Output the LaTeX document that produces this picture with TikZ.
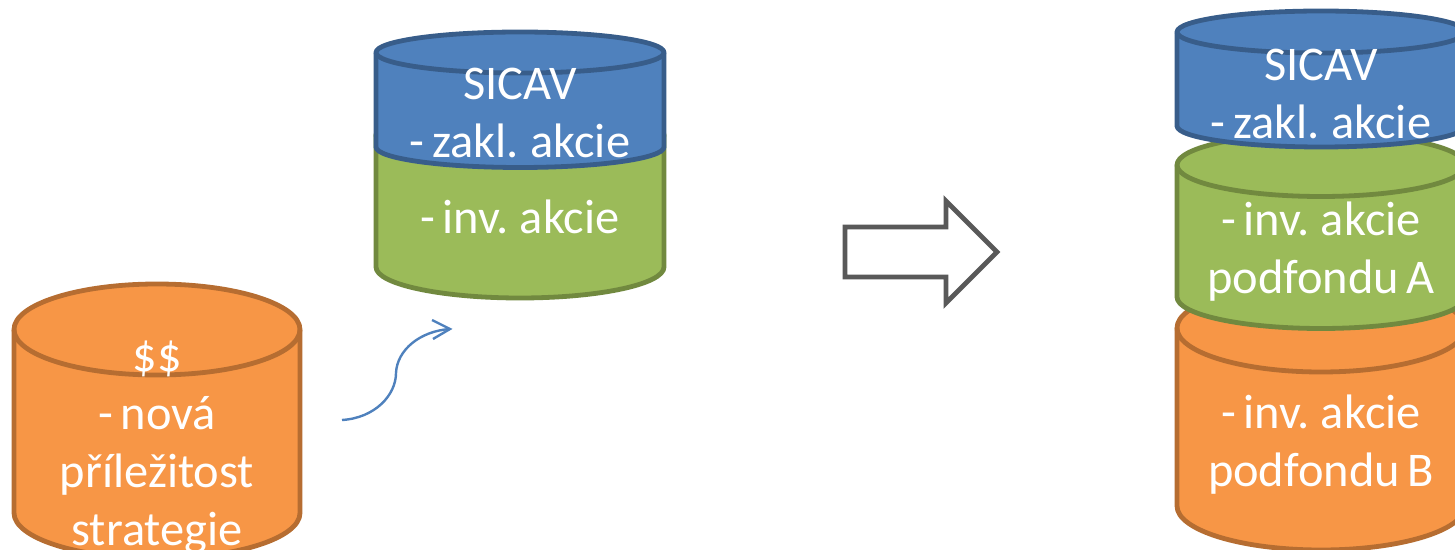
\documentclass[tikz,border=0pt]{standalone}
\usepackage{fontspec}
\setmainfont[WordSpace=0.7]{Carlito}
\definecolor{bluef}{HTML}{4F81BD}\definecolor{blued}{HTML}{385D8A}
\definecolor{greenf}{HTML}{9BBB59}\definecolor{greend}{HTML}{71893F}
\definecolor{orangef}{HTML}{F79646}\definecolor{oranged}{HTML}{B66D31}
\tikzset{
 canbody/.style={line width=2.4pt,line join=round},
 lab/.style={text=white,font=\fontsize{24.2}{29}\selectfont,align=center,inner sep=0pt,anchor=center},
}
% #1 fill, #2 line, #3 left x, #4 right x, #5 top cy, #6 bottom cy, #7 ry
\newcommand{\mycan}[7]{%
 \pgfmathsetmacro{\rx}{(#4-#3)/2}\pgfmathsetmacro{\cx}{(#4+#3)/2}%
 \draw[canbody,fill=#1,draw=#2] (#3,#5) -- (#3,#6) arc[start angle=180,end angle=360,x radius=\rx,y radius=-#7] -- (#4,#5) arc[start angle=0,end angle=180,x radius=\rx,y radius=#7*-1] -- cycle;
 \draw[canbody,draw=#2] (#3,#5) arc[start angle=180,end angle=360,x radius=\rx,y radius=-#7];
}
\begin{document}
\begin{tikzpicture}[x=0.5pt,y=-0.5pt]
\useasboundingbox (0,0) rectangle (1455,550);
\clip (0,0) rectangle (1455,550);
% left stack
\mycan{orangef}{oranged}{14}{300}{329.5}{513}{45.5}
\mycan{greenf}{greend}{376}{664}{135}{267}{31}
\mycan{bluef}{blued}{376}{664}{52.5}{147}{20.5}
% right stack
\mycan{orangef}{oranged}{1177}{1465}{328}{506}{44}
\mycan{greenf}{greend}{1177}{1465}{165}{297}{31.5}
\mycan{bluef}{blued}{1177}{1465}{32}{126}{21}
% labels
\node[lab] (n1) at (157,447) {\$\$\\- nová\\příležitost\\strategie};
\node[lab] (n2) at (520,113) {SICAV\\- zakl. akcie};
\node[lab] (n3) at (520,217) {- inv. akcie};
\node[lab] (n4) at (1321,94) {SICAV\\- zakl. akcie};
\node[lab] (n5) at (1321,252) {- inv. akcie\\podfondu A};
\node[lab] (n6) at (1321,445) {- inv. akcie\\podfondu B};
% block arrow
\draw[line width=2.4pt,draw=black!65!white,fill=white,miter limit=10]
 (845,227) -- (946,227) -- (946,201) -- (997,252) -- (946,303) -- (946,277) -- (845,277) -- cycle;
% curved arrow
\coordinate (cs) at (342,420);
\coordinate (ce) at (450,329);
\draw[line width=1.2pt,draw=bluef,line join=round]
 (cs) .. controls (375,418) and (396,395) .. (396,373) .. controls (397,350) and (420,331) .. (ce);
\draw[line width=1.2pt,draw=bluef] (432,320) -- (ce) -- (433,339);
\end{tikzpicture}
\end{document}
